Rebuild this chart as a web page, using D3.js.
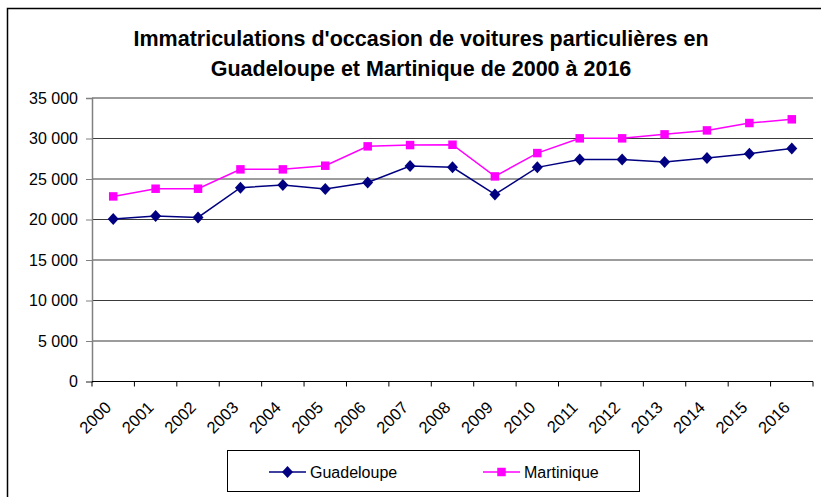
<!DOCTYPE html>
<html>
  <head>
    <meta charset="UTF-8" />
    <title>Immatriculations d'occasion</title>
    <style>
      body { margin: 0; background: #fff; }
      svg { display: block; font-family: "Liberation Sans", Arial, sans-serif; }
    </style>
  </head>
  <body>
    <svg id="chart" width="821" height="497"></svg>
    <script src="https://cdn.jsdelivr.net/npm/d3@7/dist/d3.min.js"></script>
    <script>
const years = ['2000','2001','2002','2003','2004','2005','2006','2007','2008',
               '2009','2010','2011','2012','2013','2014','2015','2016'];
const guadeloupe = [20050, 20420, 20260, 23930, 24250, 23760, 24580, 26600, 26440,
                    23100, 26440, 27420, 27420, 27090, 27590, 28130, 28780];
const martinique = [22850, 23800, 23800, 26190, 26190, 26640, 29030, 29190, 29230,
                    25320, 28200, 30020, 30020, 30510, 31000, 31910, 32370];
const yTicks = [0, 5000, 10000, 15000, 20000, 25000, 30000, 35000];
const titleLines = ["Immatriculations d'occasion de voitures particulières en",
                    "Guadeloupe et Martinique de 2000 à 2016"];

const svg = d3.select('#chart');
const plotL = 92, plotR = 813, plotT = 98, plotB = 381.5;

// cadre extérieur
svg.append('rect')
  .attr('x', 7.5).attr('y', 8.5)
  .attr('width', 830).attr('height', 500)
  .attr('fill', 'none').attr('stroke', '#000').attr('stroke-width', 1.5);

// titre
svg.append('g').selectAll('text')
  .data(titleLines)
  .join('text')
  .attr('x', 421).attr('y', (d, i) => 46 + i * 30)
  .attr('text-anchor', 'middle')
  .attr('font-size', 21.5).attr('font-weight', 'bold')
  .text(d => d);

const x = d3.scaleBand().domain(years).range([plotL, plotR]);
const y = d3.scaleLinear().domain([0, 35000]).range([plotB, plotT]);

const fmt = v => d3.format(',')(v).replace(/,/g, ' ');

// grille
svg.append('g').selectAll('line')
  .data(yTicks.filter(v => v > 0))
  .join('line')
  .attr('x1', plotL).attr('x2', plotR)
  .attr('y1', d => y(d)).attr('y2', d => y(d))
  .attr('stroke', '#3a3a3a').attr('stroke-width', 1.2);

// axe Y
const yAxis = svg.append('g')
  .attr('transform', `translate(${plotL},0)`)
  .call(d3.axisLeft(y).tickValues(yTicks).tickFormat(fmt).tickSize(6).tickPadding(8));
yAxis.select('.domain').attr('stroke', '#808080').attr('stroke-width', 1.5);
yAxis.selectAll('.tick line').attr('stroke', '#808080');
yAxis.selectAll('text').attr('font-size', 16).attr('fill', '#000')
  .attr('font-family', '"Liberation Sans", Arial, sans-serif');

// axe X
const xAxis = svg.append('g')
  .attr('transform', `translate(0,${plotB})`);
xAxis.append('line')
  .attr('x1', plotL).attr('x2', plotR)
  .attr('stroke', '#000').attr('stroke-width', 1.2);
xAxis.selectAll('line.tk')
  .data(years.concat(['end']))
  .join('line').attr('class', 'tk')
  .attr('x1', (d, i) => plotL + i * x.step()).attr('x2', (d, i) => plotL + i * x.step())
  .attr('y1', 0).attr('y2', 5)
  .attr('stroke', '#000');
xAxis.selectAll('text')
  .data(years)
  .join('text')
  .attr('transform', d => `translate(${x(d) + x.bandwidth() / 2 - 5},${23}) rotate(-45)`)
  .attr('text-anchor', 'end')
  .attr('dy', '0.35em')
  .attr('font-size', 16.5)
  .text(d => d);

// séries
const series = [
  { name: 'Guadeloupe', values: guadeloupe, color: '#000080', shape: 'diamond' },
  { name: 'Martinique', values: martinique, color: '#ff00ff', shape: 'square' }
];
const cx = (d, i) => x(years[i]) + x.bandwidth() / 2;
const line = d3.line().x(cx).y(d => y(d));
const symbolPath = s => s === 'diamond'
  ? 'M0,-6L5.5,0L0,6L-5.5,0Z'
  : d3.symbol().type(d3.symbolSquare).size(72)();

series.forEach(s => {
  svg.append('path')
    .datum(s.values)
    .attr('d', line)
    .attr('fill', 'none').attr('stroke', s.color).attr('stroke-width', 1.5);
  svg.append('g').selectAll('path')
    .data(s.values)
    .join('path')
    .attr('transform', (d, i) => `translate(${cx(d, i)},${y(d)})`)
    .attr('d', symbolPath(s.shape))
    .attr('fill', s.color);
});

// légende
const lg = svg.append('g');
lg.append('rect')
  .attr('x', 227.5).attr('y', 450.5).attr('width', 412).attr('height', 41)
  .attr('fill', '#fff').attr('stroke', '#000').attr('stroke-width', 1);
const legendX = [269, 483];
series.forEach((s, i) => {
  const g = lg.append('g').attr('transform', `translate(${legendX[i]},472)`);
  g.append('line').attr('x1', 0).attr('x2', 37)
    .attr('stroke', s.color).attr('stroke-width', 1.5);
  g.append('path').attr('transform', 'translate(18.5,0)')
    .attr('d', symbolPath(s.shape)).attr('fill', s.color);
  g.append('text').attr('x', 41).attr('dy', '0.35em')
    .attr('font-size', 16).text(s.name);
});
    </script>
  </body>
</html>
